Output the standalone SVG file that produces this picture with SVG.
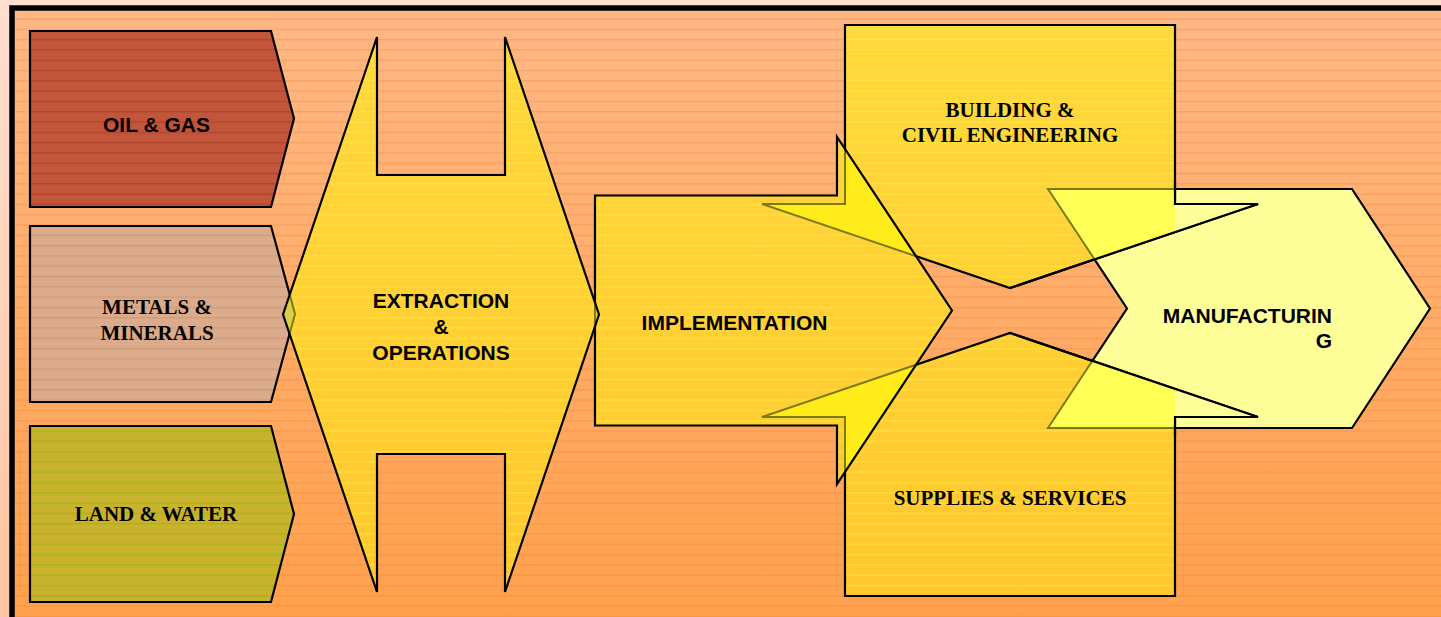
<svg xmlns="http://www.w3.org/2000/svg" width="1441" height="617" viewBox="0 0 1441 617">
<defs>
<linearGradient id="gOut" x1="0" y1="0" x2="0" y2="617" gradientUnits="userSpaceOnUse"><stop offset="0" stop-color="#FFDFCF"/><stop offset="1" stop-color="#FFC5A3"/></linearGradient>
<linearGradient id="gBg" x1="0" y1="0" x2="0" y2="617" gradientUnits="userSpaceOnUse"><stop offset="0" stop-color="#FFB886"/><stop offset="1" stop-color="#FFA04C"/></linearGradient>
<linearGradient id="gY" x1="0" y1="0" x2="0" y2="617" gradientUnits="userSpaceOnUse"><stop offset="0" stop-color="#FFDA40"/><stop offset="1" stop-color="#FFC72E"/></linearGradient>
<pattern id="stBg" x="0" y="8" width="20" height="10.3" patternUnits="userSpaceOnUse"><rect width="20" height="1.4" fill="#E8843A" fill-opacity="0.35"/></pattern>
<pattern id="stY" x="0" y="8" width="20" height="10.3" patternUnits="userSpaceOnUse"><rect width="20" height="1.4" fill="#FFEE33" fill-opacity="0.55"/></pattern>
<pattern id="stOil" x="0" y="8" width="20" height="10.3" patternUnits="userSpaceOnUse"><rect width="20" height="10.3" fill="#C3553B"/><rect width="20" height="1.4" fill="#B0462E"/></pattern>
<pattern id="stMet" x="0" y="8" width="20" height="10.3" patternUnits="userSpaceOnUse"><rect width="20" height="10.3" fill="#DCAB8B"/><rect width="20" height="1.4" fill="#CF9D7C"/></pattern>
<pattern id="stLand" x="0" y="8" width="20" height="10.3" patternUnits="userSpaceOnUse"><rect width="20" height="10.3" fill="#C9B22E"/><rect width="20" height="1.4" fill="#ABB418"/></pattern>
<path id="pExt" d="M377,37 V175 H505 V37 L599,314.5 L505,592 V454 H377 V592 L283,314.5 Z"/>
<path id="pImp" d="M595,195.5 H837 V137 L952,310.5 L837,484 V425.5 H595 Z"/>
<path id="pDown" d="M845,25 H1175 V204 H1258 L1010,288 L762,204 H845 Z"/>
<path id="pUp" d="M845,596 H1175 V417 H1258 L1010,333 L762,417 H845 Z"/>
</defs>
<style>
.ol{stroke:#000;stroke-width:2.2;stroke-linejoin:miter}
.yel{fill:url(#gY);stroke:none}
.sty{fill:url(#stY);stroke:none}
.olv{fill:none;stroke:#7D7A14;stroke-width:2}
.blk{fill:none;stroke:#000;stroke-width:2.2}
.t{font-family:"Liberation Sans",Arial,sans-serif;font-weight:bold;font-size:21px;fill:#000}
.ts{font-family:"Liberation Serif","Times New Roman",serif;font-weight:bold;font-size:21px;fill:#000}
</style>
<g id="background">
<rect x="0" y="0" width="1441" height="617" fill="url(#gOut)"/>
<rect x="12" y="8" width="1445" height="625" fill="url(#gBg)" stroke="#000" stroke-width="5.5"/>
<rect x="15" y="11" width="1426" height="606" fill="url(#stBg)"/>
</g>
<g id="manufacturing">
<path class="ol" fill="#FFFF99" d="M1048,189 H1352 L1430,308.5 L1352,428 H1048 L1127,308.5 Z"/>
<text class="t" x="1332" y="322.5" text-anchor="end">MANUFACTURIN</text>
<text class="t" x="1332" y="347.5" text-anchor="end">G</text>
</g>
<g id="building">
<use href="#pDown" class="yel"/>
<use href="#pDown" class="sty"/>
<use href="#pDown" class="blk"/>
<text class="ts" x="1010" y="116.5" text-anchor="middle">BUILDING &amp;</text>
<text class="ts" x="1010" y="141.5" text-anchor="middle">CIVIL ENGINEERING</text>
</g>
<g id="supplies">
<use href="#pUp" class="yel"/>
<use href="#pUp" class="sty"/>
<use href="#pUp" class="blk"/>
<text class="ts" x="1010" y="505" text-anchor="middle">SUPPLIES &amp; SERVICES</text>
</g>
<g id="overlap-manufacturing">
<polygon points="1048,189 1175,189 1175,232.1 1094.5,259.3" fill="#FFFF55"/>
<polygon points="1175,204 1258,204 1175,232.1" fill="#FFFF99"/>
<polygon points="1048,428 1175,428 1175,388.9 1092.4,360.8" fill="#FFFF55"/>
<polygon points="1175,417 1258,417 1175,388.9" fill="#FFFF99"/>
<polyline class="olv" points="1175,189 1048,189 1094.5,259.3"/>
<polyline class="olv" points="1175,428 1048,428 1092.4,360.8"/>
<polyline class="blk" points="1175,180 1175,204 1258,204 1010,288"/>
<polyline class="blk" points="1175,437 1175,417 1258,417 1010,333"/>
</g>
<g id="implementation">
<use href="#pImp" class="yel"/>
<use href="#pImp" class="sty"/>
<polygon points="845,149.1 916,256.2 762,204 845,204" fill="#FFEC1A"/>
<polygon points="845,471.9 916,364.8 762,417 845,417" fill="#FFEC1A"/>
<polyline class="olv" points="845,149.1 845,204 762,204 916,256.2"/>
<polyline class="olv" points="845,471.9 845,417 762,417 916,364.8"/>
<use href="#pImp" class="blk"/>
<text class="t" x="734.5" y="329.5" text-anchor="middle">IMPLEMENTATION</text>
</g>
<g id="oil-gas">
<path class="ol" fill="url(#stOil)" d="M30,31 H271 L294,118.5 L271,207 H30 Z"/>
<text class="t" x="156.5" y="131.5" text-anchor="middle">OIL &amp; GAS</text>
</g>
<g id="metals-minerals">
<path class="ol" fill="url(#stMet)" d="M30,226 H271 L295,314 L271,402 H30 Z"/>
<text class="ts" x="157" y="314" text-anchor="middle">METALS &amp;</text>
<text class="ts" x="157" y="340" text-anchor="middle">MINERALS</text>
</g>
<g id="land-water">
<path class="ol" fill="url(#stLand)" d="M30,426 H271 L294,514 L271,602 H30 Z"/>
<text class="ts" x="156" y="520.7" text-anchor="middle">LAND &amp; WATER</text>
</g>
<g id="extraction">
<use href="#pExt" class="yel"/>
<use href="#pExt" class="sty"/>
<polygon points="283,314.5 289.7,294.6 295,314 289.6,333.9" fill="#D8D048"/>
<polyline class="olv" points="289.7,294.6 295,314 289.6,333.9"/>
<polygon points="595,302.7 599,314.5 595,326.3" fill="#EEDA36"/>
<line class="olv" x1="595" y1="302.7" x2="595" y2="326.3"/>
<use href="#pExt" class="blk"/>
<text class="t" x="441" y="307.5" text-anchor="middle">EXTRACTION</text>
<text class="t" x="441" y="333.5" text-anchor="middle">&amp;</text>
<text class="t" x="441" y="359.5" text-anchor="middle">OPERATIONS</text>
</g>
</svg>
